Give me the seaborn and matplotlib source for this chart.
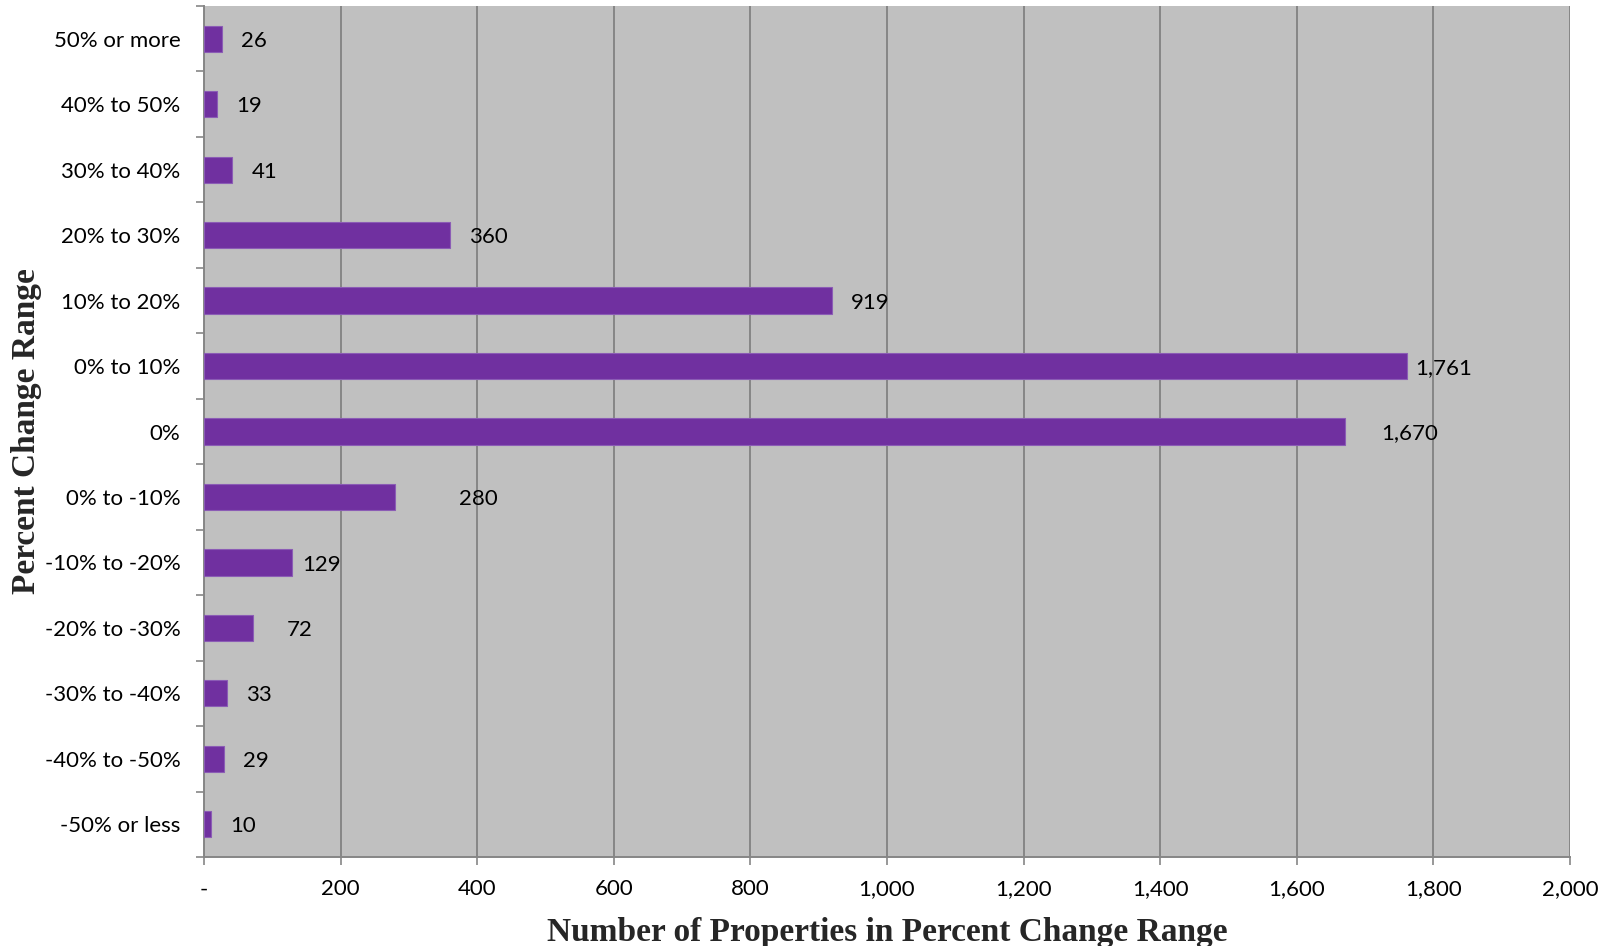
import matplotlib
matplotlib.use("Agg")
import matplotlib.pyplot as plt
import seaborn as sns
import pandas as pd
from matplotlib.ticker import FixedLocator, FuncFormatter

categories = ["50% or more", "40% to 50%", "30% to 40%", "20% to 30%", "10% to 20%",
              "0% to 10%", "0%", "0% to -10%", "-10% to -20%", "-20% to -30%",
              "-30% to -40%", "-40% to -50%", "-50% or less"]
counts = [26, 19, 41, 360, 919, 1761, 1670, 280, 129, 72, 33, 29, 10]
x_ticks = [0, 200, 400, 600, 800, 1000, 1200, 1400, 1600, 1800, 2000]

# label offsets (points) imitating Excel label placement
label_offsets = [14, 14, 14, 14, 14, 6, 26, 46, 7, 24, 14, 14, 14]

df = pd.DataFrame({"Range": categories, "Count": counts})

sns.set_theme(style="white")
plt.rcParams["font.family"] = ["Lato", "DejaVu Sans"]

fig = plt.figure(figsize=(16.12, 9.46), dpi=100)
ax = fig.add_axes([204 / 1612, 1 - 857 / 946, (1570 - 204) / 1612, (857 - 6) / 946])
ax.set_facecolor("#C0C0C0")

sns.barplot(data=df, x="Count", y="Range", orient="h", color="#7030A0",
            saturation=1, width=0.4, edgecolor="#8B5CB5", linewidth=0.8,
            ax=ax, zorder=3)

ax.set_xlim(0, 2000)
ax.set_ylim(len(categories) - 0.5, -0.5)

ax.xaxis.set_major_locator(FixedLocator(x_ticks))
ax.xaxis.set_major_formatter(FuncFormatter(lambda v, p: "-" if v == 0 else f"{int(v):,}"))
ax.grid(axis="x", color="#868686", linewidth=1.4, zorder=1)
ax.set_axisbelow(True)

# y ticks at category boundaries
ax.yaxis.set_minor_locator(FixedLocator([i - 0.5 for i in range(len(categories) + 1)]))
ax.tick_params(axis="y", which="major", length=0, pad=17, labelsize=16, labelcolor="black")
ax.tick_params(axis="y", which="minor", length=6, width=1.2, color="#868686", left=True)
ax.tick_params(axis="x", which="major", length=6, width=1.2, color="#868686",
               bottom=True, pad=10, labelsize=16, labelcolor="black")

ax.spines["top"].set_visible(False)
ax.spines["right"].set_visible(False)
for side in ["left", "bottom"]:
    ax.spines[side].set_color("#868686")
    ax.spines[side].set_linewidth(1.4)

for i, (v, off) in enumerate(zip(counts, label_offsets)):
    ax.annotate(f"{v:,}", xy=(v, i), xytext=(off, -1.5), textcoords="offset points",
                ha="left", va="center", fontsize=16, color="black", zorder=4)

ax.set_xlabel("Number of Properties in Percent Change Range",
              fontfamily="Liberation Serif", fontweight="bold", fontsize=24, labelpad=13)
ax.set_ylabel("Percent Change Range",
              fontfamily="Liberation Serif", fontweight="bold", fontsize=24)
ax.yaxis.set_label_coords((42 - 204) / 1366, 0.5)

fig.savefig("out.png", dpi=100)
